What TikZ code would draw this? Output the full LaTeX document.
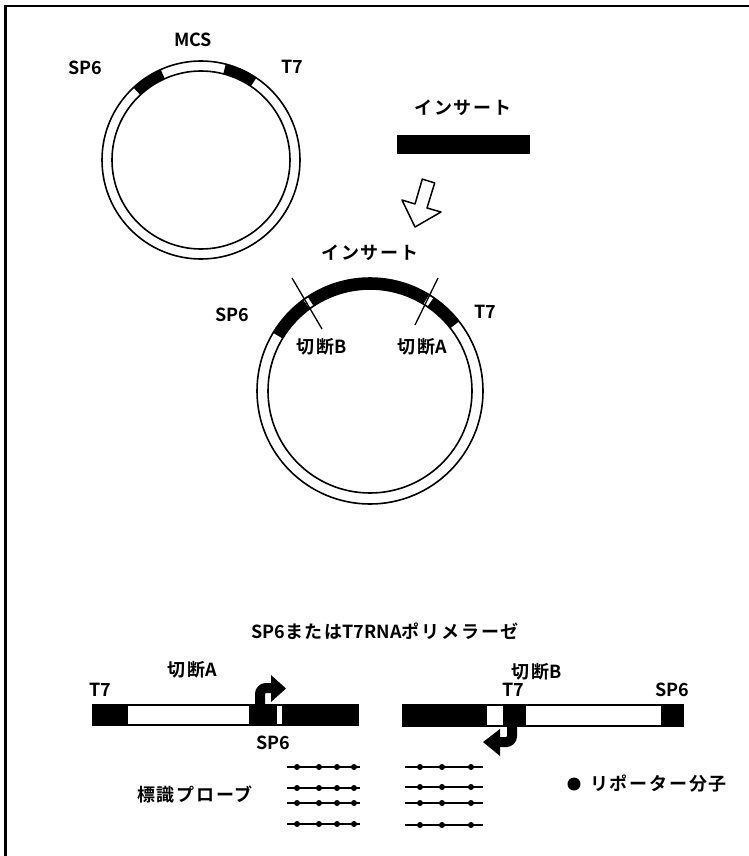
\documentclass[tikz,border=0pt]{standalone}
\usepackage{fontspec}
\setmainfont{Noto Sans CJK JP}[BoldFont={* Bold}]
\newfontfamily\jpsp{Noto Sans CJK JP}[BoldFont={* Bold}, LetterSpace=10]
\usetikzlibrary{calc}
\tikzset{
  lbl/.style={font=\fontsize{18}{18}\selectfont\bfseries, inner sep=0pt},
  ring/.style={line width=1.6pt},
  bar/.style={line width=1.4pt},
  probe/.style={line width=1.4pt},
}
\newcommand{\J}[1]{{\jpsp #1}}
\newcommand{\annsec}[6]{% cx cy a1 a2 Ro Ri  (polar angles)
  \fill[black] ($(#1,#2)+(#3:#5)$) arc[start angle=#3, end angle=#4, radius=#5]
     -- ($(#1,#2)+(#4:#6)$) arc[start angle=#4, end angle=#3, radius=#6] -- cycle;}
\newcommand{\gapsec}[6]{%
  \filldraw[fill=white, draw=black, line width=0.8pt] ($(#1,#2)+(#3:#5)$) arc[start angle=#3, end angle=#4, radius=#5]
     -- ($(#1,#2)+(#4:#6)$) arc[start angle=#4, end angle=#3, radius=#6] -- cycle;}
\begin{document}
\begin{tikzpicture}[x=1pt,y=-1pt]
\useasboundingbox (0,0) rectangle (749,856);
% frame (top and left visible)
\draw[line width=2.5pt] (5.5,856) -- (5.5,6) -- (749,6);

% ---- plasmid 1 ----
\coordinate (c1) at (201,160);
\annsec{201}{160}{-133}{-114}{99}{89}
\annsec{201}{160}{-75.5}{-56}{99}{89}
\draw[ring] (c1) circle[radius=99];
\draw[ring] (c1) circle[radius=89];
\node[lbl] (sp6a) at (85,68) {SP6};
\node[lbl] (mcs) at (193,40) {MCS};
\node[lbl] (t7a) at (292,67) {T7};

% ---- insert ----
\node[lbl] (ins1) at (463,108) {\J{インサート}};
\fill (397,135) rectangle (530,154);

% ---- hollow arrow ----
\draw[line width=1.5pt, line join=round, fill=white]
  (422.3,179.1) -- (434.7,182.9) -- (427.0,208.0) -- (441.0,212.0) -- (415,227)
  -- (402.0,200.0) -- (415.0,204.0) -- cycle;

% ---- plasmid 2 ----
\coordinate (c2) at (370,391);
\annsec{370}{391}{-149}{-38}{113}{102}
\gapsec{370}{391}{-126.5}{-123.3}{113}{102}
\gapsec{370}{391}{-58.7}{-55.5}{113}{102}
\draw[ring] (c2) circle[radius=113];
\draw[ring] (c2) circle[radius=102];
\coordinate (cb1) at (292,278); \coordinate (cb2) at (322,329);
\coordinate (ca1) at (438,278); \coordinate (ca2) at (415,325);
\draw[line width=1.3pt] (cb1) -- (cb2);
\draw[line width=1.3pt] (ca1) -- (ca2);
\node[lbl] (ins2) at (370,253) {\J{インサート}};
\node[lbl] (sp6b) at (232,315) {SP6};
\node[lbl] (t7b) at (485,312) {T7};
\node[lbl] (cutb) at (322,347) {\J{切断}B};
\node[lbl] (cuta) at (422,347) {\J{切断}A};

% ---- polymerase ----
\node[lbl] (pol) at (385,631) {SP6\J{または}T7RNA\J{ポリメラーゼ}};

% ---- left linear ----
\fill (93,705) rectangle (128,725);
\fill (249,705) rectangle (277,725);
\fill (282,705) rectangle (358,725);
\draw[bar] (93,705) rectangle (358,725);
\draw[line width=10pt, rounded corners=6pt] (260,706) -- (260,688) -- (273,688);
\fill (271,675) -- (286,688.5) -- (271,702) -- cycle;
\node[lbl] (t7c) at (100,690) {T7};
\node[lbl] (cutc) at (192,670) {\J{切断}A};
\node[lbl] (sp6c) at (273,743) {SP6};

% ---- right linear ----
\fill (403,705) rectangle (487,726);
\fill (503,705) rectangle (526,726);
\fill (661,705) rectangle (683,726);
\draw[bar] (403,705) rectangle (683,726);
\draw[line width=10pt, rounded corners=6pt] (512,725) -- (512,742) -- (498,742);
\fill (500,729) -- (483,742) -- (500,756) -- cycle;
\node[lbl] (cutd) at (537,672) {\J{切断}B};
\node[lbl] (t7d) at (513,690) {T7};
\node[lbl] (sp6d) at (672,690) {SP6};

% ---- probes left ----
\foreach \y in {767,788,803,824}{
  \draw[probe] (287,\y) -- (360,\y);
  \foreach \x in {297,319,337,354}{\fill (\x,\y) circle[radius=3];}
}
\node[lbl] (probe) at (195,795) {\J{標識プローブ}};
% ---- probes right ----
\foreach \y in {767,787,803,825}{
  \draw[probe] (405,\y) -- (483,\y);
  \foreach \x in {420,442,471}{\fill (\x,\y) circle[radius=3];}
}
\fill (574,784) circle[radius=6.5];
\node[lbl, anchor=west] (rep) at (590,784) {\J{リポーター分子}};
\end{tikzpicture}
\end{document}
